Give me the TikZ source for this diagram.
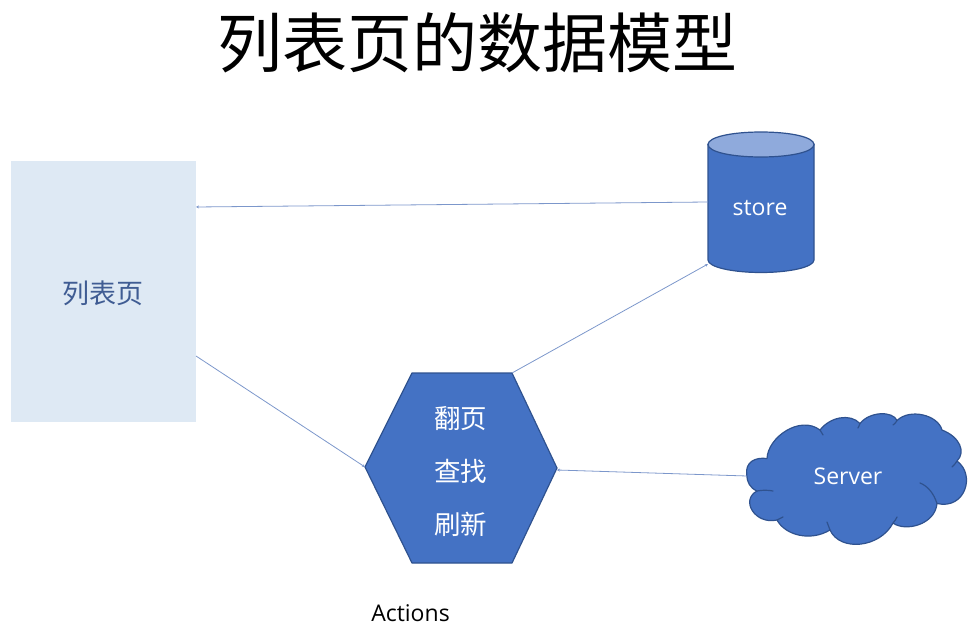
\documentclass[tikz,border=0pt]{standalone}
\usepackage{fontspec}
\setmainfont{Open Sans}
\newfontfamily\cjk{Noto Sans CJK SC}[Scale=1]
\usetikzlibrary{arrows.meta}
\definecolor{shapefill}{HTML}{4472C4}
\definecolor{shapeline}{HTML}{2F528F}
\definecolor{captop}{HTML}{8FAADC}
\definecolor{pagefill}{HTML}{DEE9F4}
\definecolor{listtext}{HTML}{3F5C93}
\definecolor{linkcol}{HTML}{7C97CB}
\tikzset{
  x=1pt,y=-1pt,
  solidshape/.style={fill=shapefill,draw=shapeline,line width=1.2pt,line join=round},
  link/.style={draw=linkcol,line width=0.8pt,-{Stealth[length=3pt,width=3pt]}},
  whitetext/.style={text=white,inner sep=0pt},
  cloudcrease/.style={draw=shapeline,line width=1.2pt,line cap=round},
}
\begin{document}
\begin{tikzpicture}
\useasboundingbox (0,0) rectangle (974,636);
\node[inner sep=0pt] (title) at (477.5,43) {\cjk\fontsize{65}{70}\selectfont 列表页的数据模型};
% list page
\node[fill=pagefill,minimum width=185pt,minimum height=261pt,inner sep=0pt] (list) at (103.5,291.5) {};
\node[inner sep=0pt,text=listtext] (listlabel) at (102.5,293) {\cjk\fontsize{27}{30}\selectfont 列表页};
\coordinate (listA) at (196,207);
\coordinate (listB) at (196,356);
% store
\path[solidshape] (708,144) -- (708,260) .. controls (708,267) and (732,272.5) .. (761,272.5) .. controls (790,272.5) and (814,267) .. (814,260) -- (814,144) -- cycle;
\path[solidshape,fill=captop] (761,132) .. controls (790,132) and (814,137) .. (814,144.5) .. controls (814,152) and (790,157) .. (761,157) .. controls (732,157) and (708,152) .. (708,144.5) .. controls (708,137) and (732,132) .. (761,132) -- cycle;
\node[whitetext] (store) at (760,208) {\fontsize{23}{27}\selectfont store};
\coordinate (storeA) at (708,202);
\coordinate (storeB) at (708,264);
% hexagon
\path[solidshape] (412,373) -- (512,373) -- (557,468) -- (512,563) -- (412,563) -- (365,467) -- cycle;
\coordinate (hexL) at (365,467);
\coordinate (hexR) at (557,470);
\coordinate (hexT) at (512,373);
\node[whitetext] (act1) at (460.5,419) {\cjk\fontsize{26.5}{30}\selectfont 翻页};
\node[whitetext] (act2) at (460.5,471) {\cjk\fontsize{26.5}{30}\selectfont 查找};
\node[whitetext] (act3) at (460.5,524) {\cjk\fontsize{26.5}{30}\selectfont 刷新};
\node[inner sep=0pt] (actions) at (410.5,613) {\fontsize{23}{27}\selectfont Actions};
% cloud
\path[solidshape] (746.7,475)
 .. controls (745,462) and (755,457) .. (767,458.5)
 .. controls (768,437) and (800,415) .. (820,430)
 .. controls (830,417) and (850,413) .. (860,423.5)
 .. controls (870,411) and (893,411) .. (897,420.5)
 .. controls (910,408) and (938,415) .. (942,430)
 .. controls (960,437) and (966,452) .. (957,461)
 .. controls (976,475) and (965,510) .. (937,503.5)
 .. controls (935,525) and (905,532) .. (893,523)
 .. controls (880,548) and (840,552) .. (830,530)
 .. controls (810,542) and (785,535) .. (777,520)
 .. controls (755,525) and (740,500) .. (757,491)
 .. controls (750,488) and (747,482) .. (746.7,475) -- cycle;
\draw[cloudcrease] (920,483) .. controls (928,486) and (934,494) .. (937,503.5);
\draw[cloudcrease] (952,467) .. controls (954,465) and (956,463) .. (957,461);
\draw[cloudcrease] (757,491) .. controls (762,490) and (768,490) .. (773,491);
\draw[cloudcrease] (777,520) .. controls (779,519) and (781,518) .. (783,517);
\draw[cloudcrease] (830,530) .. controls (829,527) and (828,525) .. (827,522);
\draw[cloudcrease] (893,523) .. controls (895,521) and (896,519) .. (897,517);
\draw[cloudcrease] (820,430) .. controls (821,432) and (822,433) .. (823,435);
\draw[cloudcrease] (860,423.5) .. controls (859,425) and (859,427) .. (858,428);
\draw[cloudcrease] (897,420.5) .. controls (896,422) and (895,424) .. (893,425);
\node[whitetext] (server) at (848,476) {\fontsize{23}{27}\selectfont Server};
\coordinate (cloudL) at (747,476);
% connectors
\draw[link] (storeA) -- (listA);
\draw[link] (hexT) -- (storeB);
\draw[link] (listB) -- (hexL);
\draw[link] (cloudL) -- (hexR);
\end{tikzpicture}
\end{document}
